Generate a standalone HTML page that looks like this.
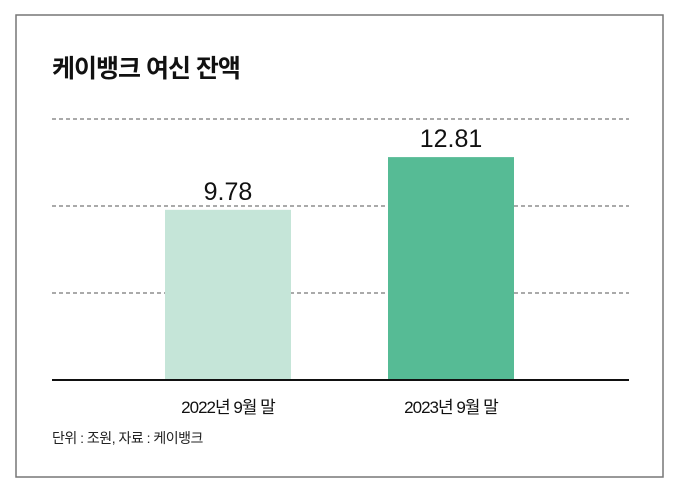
<!DOCTYPE html>
<html><head><meta charset="utf-8"><style>
body{margin:0;background:#fff;width:680px;height:493px;overflow:hidden;font-family:"Liberation Sans","Noto Sans CJK KR",sans-serif}
</style></head><body>
<svg id="chart" width="680" height="493" xmlns="http://www.w3.org/2000/svg">
<rect x="16" y="15" width="647" height="462" fill="#fff" stroke="#777" stroke-width="1.5"/>
<text x="52" y="77" font-size="25" font-weight="bold" fill="#111" font-family="Liberation Sans, Noto Sans CJK KR, sans-serif" letter-spacing="-1">케이뱅크 여신 잔액</text>
<g id="grid"></g>
<g id="bars"></g>
<line x1="52" y1="380" x2="629" y2="380" stroke="#111" stroke-width="2"/>
<text x="52" y="443" font-size="14" fill="#222" font-family="Liberation Sans, Noto Sans CJK KR, sans-serif" letter-spacing="-0.5">단위 : 조원, 자료 : 케이뱅크</text>
</svg>
<script>
const categories=["2022년 9월 말","2023년 9월 말"];
const values=[9.78,12.81];
const valueLabels=["9.78","12.81"];
const gridTicks=[5,10,15];
const colors=["#c5e5d8","#56bb95"];
const NS="http://www.w3.org/2000/svg";
const y0=380,pxPer=261/15;
const y=v=>y0-v*pxPer;
const xc=i=>228+i*223;
const g=document.getElementById('grid'),b=document.getElementById('bars');
gridTicks.forEach(t=>{
 const l=document.createElementNS(NS,'line');
 l.setAttribute('x1',52);l.setAttribute('x2',629);l.setAttribute('y1',y(t));l.setAttribute('y2',y(t));
 l.setAttribute('stroke','#555');l.setAttribute('stroke-dasharray','4,3');l.setAttribute('stroke-width','1');
 
 
 g.appendChild(l);
});
values.forEach((v,i)=>{
 const r=document.createElementNS(NS,'rect');
 r.setAttribute('x',xc(i)-63);r.setAttribute('width',126);r.setAttribute('y',y(v));r.setAttribute('height',y0-y(v));
 r.setAttribute('fill',colors[i]);
 
 
 b.appendChild(r);
 const t=document.createElementNS(NS,'text');
 t.setAttribute('x',xc(i));t.setAttribute('y',y(v)-10);t.setAttribute('text-anchor','middle');
 t.setAttribute('font-size','25');t.setAttribute('fill','#111');t.textContent=valueLabels[i];
 
 
 b.appendChild(t);
 const c=document.createElementNS(NS,'text');
 c.setAttribute('x',xc(i));c.setAttribute('y',413);c.setAttribute('text-anchor','middle');
 c.setAttribute('font-size','17');c.setAttribute('fill','#111');c.setAttribute('letter-spacing','-1');c.textContent=categories[i];
 
 
 b.appendChild(c);
});
</script>
</body></html>
